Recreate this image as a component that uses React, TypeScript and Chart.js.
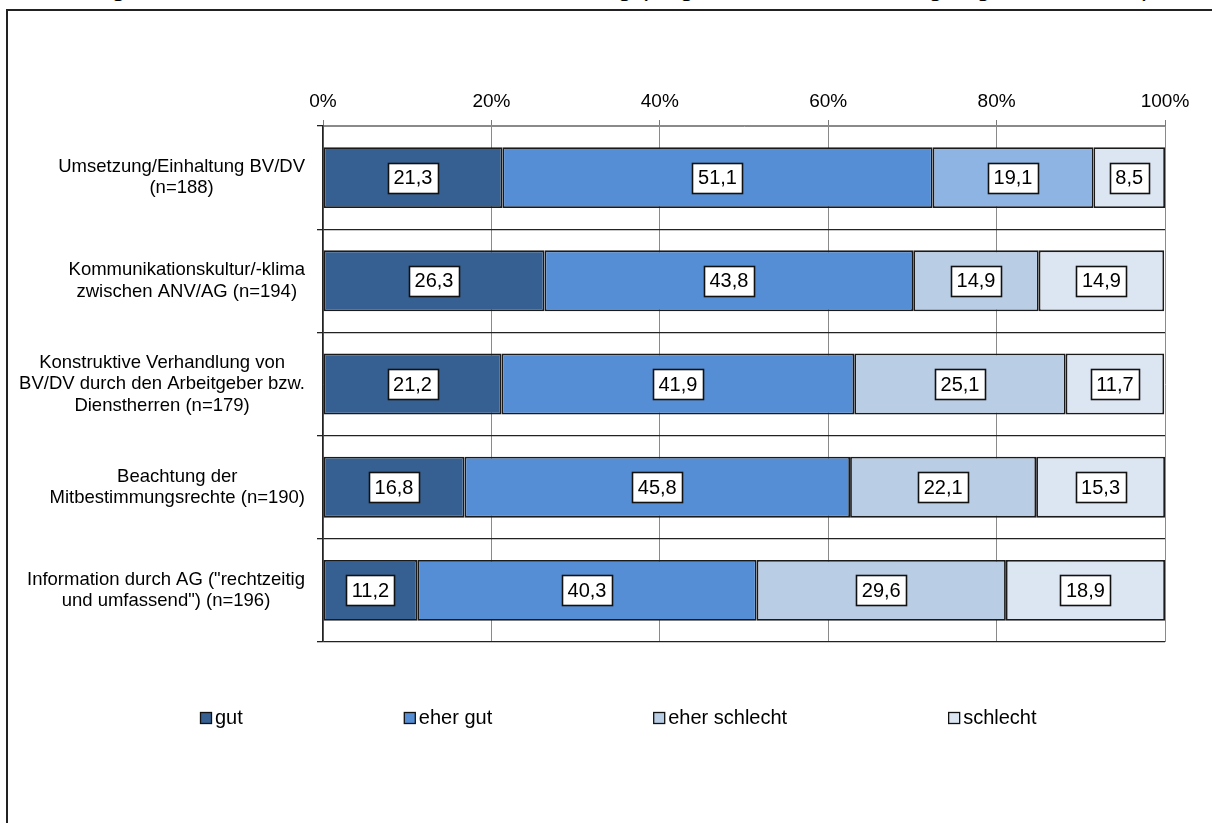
import React, { useEffect, useRef } from "react";
import { Chart, registerables } from "chart.js";

Chart.register(...registerables);

const titleText =
  "Abbildung 5: Wandel der betrieblichen Mitbestimmung (Angaben in Prozent der gültigen Antworten)";

const categories: string[][] = [
  ["Umsetzung/Einhaltung BV/DV", "(n=188)"],
  ["Kommunikationskultur/-klima", "zwischen ANV/AG (n=194)"],
  ["Konstruktive Verhandlung von", "BV/DV durch den Arbeitgeber bzw.", "Dienstherren (n=179)"],
  ["Beachtung der", "Mitbestimmungsrechte (n=190)"],
  ["Information durch AG (\"rechtzeitig", "und umfassend\") (n=196)"],
];

const seriesNames = ["gut", "eher gut", "eher schlecht", "schlecht"];
const gut = [21.3, 26.3, 21.2, 16.8, 11.2];
const eherGut = [51.1, 43.8, 41.9, 45.8, 40.3];
const eherSchlecht = [19.1, 14.9, 25.1, 22.1, 29.6];
const schlecht = [8.5, 14.9, 11.7, 15.3, 18.9];
const xTicks = [0, 20, 40, 60, 80, 100];

const FONT = '"Liberation Sans", Arial, sans-serif';

const colGut = "#376092";
const colEherGut = "#558ED5";
const colEherSchlecht = "#B9CDE5";
const colEherSchlechtFirst = "#8EB4E3";
const colSchlecht = "#DCE6F2";

const boxLabelPlugin = {
  id: "boxLabels",
  afterDatasetsDraw(chart: any) {
    const ctx = chart.ctx;
    ctx.save();
    ctx.font = `20px ${FONT}`;
    ctx.textAlign = "center";
    ctx.textBaseline = "middle";
    chart.data.datasets.forEach((ds: any, di: number) => {
      const meta = chart.getDatasetMeta(di);
      meta.data.forEach((el: any, i: number) => {
        const v = ds.data[i] as number;
        const txt = v.toFixed(1).replace(".", ",");
        const { x, y, base } = el.getProps(["x", "y", "base"], true);
        const cx = (x + base) / 2;
        const w = Math.round(ctx.measureText(txt).width + 11);
        const h = 30;
        const left = Math.round(cx - w / 2) + 0.5;
        const top = Math.round(y - h / 2) + 0.5;
        ctx.fillStyle = "#ffffff";
        ctx.fillRect(left, top, w, h);
        ctx.strokeStyle = "#111111";
        ctx.lineWidth = 1.6;
        ctx.strokeRect(left, top, w, h);
        ctx.fillStyle = "#000000";
        ctx.fillText(txt, cx, y + 1);
      });
    });
    ctx.restore();
  },
};

const categoryLabelPlugin = {
  id: "categoryLabels",
  afterDraw(chart: any) {
    const ctx = chart.ctx;
    const yScale = chart.scales.y;
    const area = chart.chartArea;
    ctx.save();
    ctx.font = `18.5px ${FONT}`;
    ctx.fillStyle = "#000000";
    ctx.textAlign = "center";
    ctx.textBaseline = "middle";
    const lineH = 21.5;
    categories.forEach((lines, i) => {
      const cy = yScale.getPixelForValue(i);
      const maxW = Math.max(...lines.map((l) => ctx.measureText(l).width));
      const rightX = area.left - 18;
      const cx = rightX - maxW / 2;
      lines.forEach((l, j) => {
        const ly = cy + (j - (lines.length - 1) / 2) * lineH;
        ctx.fillText(l, cx, ly);
      });
    });
    ctx.restore();
  },
};

const legendPlugin = {
  id: "customLegend",
  afterDraw(chart: any) {
    const ctx = chart.ctx;
    const area = chart.chartArea;
    ctx.save();
    ctx.font = `20px ${FONT}`;
    ctx.textBaseline = "middle";
    ctx.textAlign = "left";
    const cy = area.bottom + 76;
    let x = area.left - 123;
    chart.data.datasets.forEach((ds: any) => {
      ctx.fillStyle = ds.legendColor;
      ctx.fillRect(x + 0.5, cy - 5.5, 11, 11);
      ctx.strokeStyle = "#111111";
      ctx.lineWidth = 1.3;
      ctx.strokeRect(x + 0.5, cy - 5.5, 11, 11);
      ctx.fillStyle = "#000000";
      ctx.fillText(ds.label, x + 15, cy);
      x += 15 + ctx.measureText(ds.label).width + 161;
    });
    ctx.restore();
  },
};

export default function App() {
  const canvasRef = useRef<HTMLCanvasElement | null>(null);

  useEffect(() => {
    const canvas = canvasRef.current;
    if (!canvas) return;
    Chart.defaults.font.family = FONT;
    const labels = categories.map((c) => c.join(" "));
    const chart = new Chart(canvas, {
      type: "bar",
      data: {
        labels,
        datasets: [
          { label: seriesNames[0], data: gut, backgroundColor: colGut, legendColor: colGut } as any,
          { label: seriesNames[1], data: eherGut, backgroundColor: colEherGut, legendColor: colEherGut } as any,
          {
            label: seriesNames[2],
            data: eherSchlecht,
            backgroundColor: eherSchlecht.map((_, i) => (i === 0 ? colEherSchlechtFirst : colEherSchlecht)),
            legendColor: colEherSchlecht,
          } as any,
          { label: seriesNames[3], data: schlecht, backgroundColor: colSchlecht, legendColor: colSchlecht } as any,
        ].map((d: any) => ({
          ...d,
          borderColor: "#1a1a1a",
          borderWidth: 1.8,
          borderSkipped: false,
          barPercentage: 0.59,
          categoryPercentage: 1,
        })),
      },
      options: {
        indexAxis: "y",
        animation: false,
        responsive: false,
        devicePixelRatio: 1,
        layout: { padding: { left: 0, right: 47, top: 0, bottom: 181 } },
        plugins: {
          legend: { display: false },
          tooltip: { enabled: false },
          title: { display: false },
        },
        scales: {
          x: {
            position: "top",
            stacked: true,
            min: 0,
            max: 100,
            afterBuildTicks: (scale: any) => {
              scale.ticks = xTicks.map((v) => ({ value: v }));
            },
            afterFit: (scale: any) => {
              scale.height = 126;
            },
            ticks: {
              color: "#000000",
              font: { size: 19, family: FONT },
              padding: 7,
              maxRotation: 0,
              callback: (v: any) => `${v}%`,
            },
            grid: {
              color: "#8a8a8a",
              lineWidth: 1,
              tickLength: 6,
              tickColor: "#7a7a7a",
              drawTicks: true,
            },
            border: { color: "#8a8a8a", width: 1 },
          },
          y: {
            stacked: true,
            offset: true,
            afterFit: (scale: any) => {
              scale.width = 323;
            },
            ticks: { display: false },
            grid: {
              offset: true,
              color: (ctx: any) =>
                ctx.index === 0 || ctx.index === categories.length ? "#8a8a8a" : "#222222",
              lineWidth: 1.3,
              tickLength: 6,
              tickColor: "#222222",
              drawTicks: true,
            },
            border: { color: "#222222", width: 1.5 },
          },
        },
      } as any,
      plugins: [boxLabelPlugin, categoryLabelPlugin, legendPlugin],
    });
    return () => chart.destroy();
  }, []);

  return (
    <div
      style={{
        position: "fixed",
        left: 0,
        top: 0,
        width: 1212,
        height: 823,
        overflow: "hidden",
        background: "#ffffff",
      }}
    >
      <div
        style={{
          position: "absolute",
          left: 10,
          top: -28,
          fontFamily: FONT,
          fontSize: 26,
          lineHeight: "normal",
          whiteSpace: "nowrap",
          color: "#000",
        }}
      >
        {titleText}
      </div>
      <div
        style={{
          position: "absolute",
          left: 6,
          top: 9,
          width: 1400,
          height: 1000,
          border: "2px solid #222",
          background: "#fff",
        }}
      />
      <canvas
        ref={canvasRef}
        width={1212}
        height={823}
        style={{ position: "absolute", left: 0, top: 0, width: 1212, height: 823 }}
      />
    </div>
  );
}
